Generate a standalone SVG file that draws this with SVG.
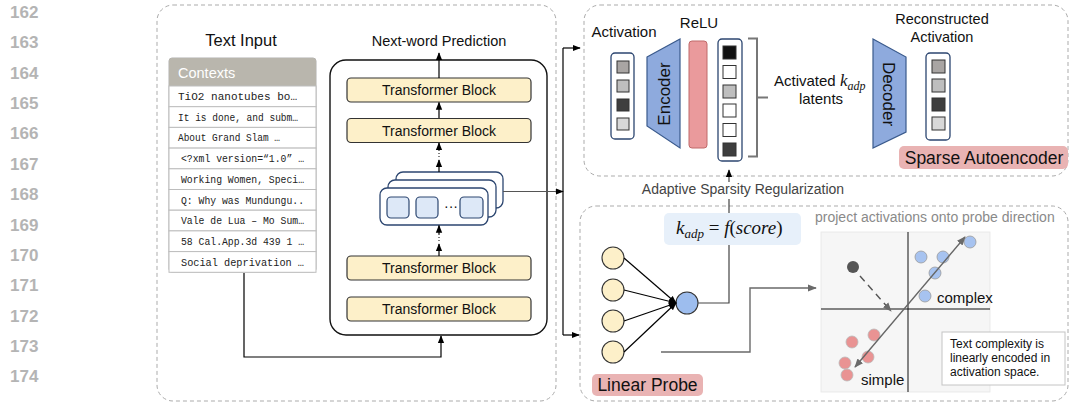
<svg xmlns="http://www.w3.org/2000/svg" width="1071" height="404" viewBox="0 0 1071 404">
  <defs>
    <marker id="ah" viewBox="0 0 10 10" refX="9" refY="5" markerUnits="userSpaceOnUse" markerWidth="8" markerHeight="8" orient="auto-start-reverse">
      <path d="M0,1 L10,5 L0,9 z" fill="#000"/>
    </marker>
    <marker id="ahg" viewBox="0 0 10 10" refX="9" refY="5" markerUnits="userSpaceOnUse" markerWidth="9" markerHeight="9" orient="auto-start-reverse">
      <path d="M0,1 L10,5 L0,9 z" fill="#6a6a6a"/>
    </marker>
    <style>
      .sans { font-family: "Liberation Sans", Arial, sans-serif; }
      .mono { font-family: "Liberation Mono", "DejaVu Sans Mono", monospace; font-size: 10.5px; fill: #222; }
      .math { font-family: "Liberation Serif", "DejaVu Serif", serif; font-style: italic; }
      .lineno { font-family: "Liberation Sans", Arial, sans-serif; font-size: 17px; font-weight: bold; fill: #b4b4b4; }
      .panel { fill: none; stroke: #ababab; stroke-width: 1; stroke-dasharray: 4 3; }
      .tblock { fill: #fdf0c9; stroke: #333; stroke-width: 1.2; }
      .tblock-t { font-family: "Liberation Sans", Arial, sans-serif; font-size: 14px; fill: #111; text-anchor: middle; }
      .vec { fill: #fff; stroke: #2c4670; stroke-width: 1.3; }
      .cell { stroke: #333; stroke-width: 1; }
      .tag { fill: #e9b3b3; }
      .tag-t { font-family: "Liberation Sans", Arial, sans-serif; font-size: 17.5px; fill: #111; text-anchor: middle; }
      .wire { fill: none; stroke: #000; stroke-width: 1.2; }
      .gwire { fill: none; stroke: #6a6a6a; stroke-width: 1.4; }
      .row { fill: #fff; stroke: #bdbdbd; stroke-width: 1; }
      .layer { fill: #fff; stroke: #2c4670; stroke-width: 1.3; }
      .tok { fill: #dde8f7; stroke: #2c4670; stroke-width: 1.2; }
      .neuron { fill: #fdf0c9; stroke: #333; stroke-width: 1.1; }
      .bluept { fill: #a7c3f0; stroke: #9a9a9a; stroke-width: 0.8; }
      .redpt { fill: #e99393; stroke: #b9b9b9; stroke-width: 0.8; }
    </style>
  </defs>

  <!-- line numbers -->
  <g id="line-numbers">
    <text class="lineno" x="10" y="18">162</text>
    <text class="lineno" x="10" y="48.4">163</text>
    <text class="lineno" x="10" y="78.7">164</text>
    <text class="lineno" x="10" y="109">165</text>
    <text class="lineno" x="10" y="139.4">166</text>
    <text class="lineno" x="10" y="169.8">167</text>
    <text class="lineno" x="10" y="200.1">168</text>
    <text class="lineno" x="10" y="230.5">169</text>
    <text class="lineno" x="10" y="260.8">170</text>
    <text class="lineno" x="10" y="291.2">171</text>
    <text class="lineno" x="10" y="321.5">172</text>
    <text class="lineno" x="10" y="351.9">173</text>
    <text class="lineno" x="10" y="382.2">174</text>
  </g>

  <!-- panels -->
  <g id="panels">
    <rect class="panel" x="157" y="5" width="399" height="396" rx="16"/>
    <rect class="panel" x="584" y="5" width="484" height="171" rx="16"/>
    <rect class="panel" x="580" y="206" width="488" height="195" rx="16"/>
  </g>

  <!-- text input table -->
  <g id="text-input">
    <text class="sans" x="241" y="46" font-size="16.5" text-anchor="middle" fill="#111">Text Input</text>
    <rect x="169" y="58" width="147" height="214" rx="3" fill="#fff" stroke="#b0b0b0" stroke-width="1"/>
    <path d="M169,86 V61 a3,3 0 0 1 3,-3 H313 a3,3 0 0 1 3,3 V86 z" fill="#b9b6ad"/>
    <text class="sans" x="178" y="78" font-size="14.5" fill="#fff">Contexts</text>
    <rect class="row" x="169" y="86" width="147" height="20.7"/>
    <rect class="row" x="169" y="106.7" width="147" height="20.7"/>
    <rect class="row" x="169" y="127.4" width="147" height="20.7"/>
    <rect class="row" x="169" y="148.1" width="147" height="20.7"/>
    <rect class="row" x="169" y="168.8" width="147" height="20.7"/>
    <rect class="row" x="169" y="189.5" width="147" height="20.7"/>
    <rect class="row" x="169" y="210.2" width="147" height="20.7"/>
    <rect class="row" x="169" y="230.9" width="147" height="20.7"/>
    <rect class="row" x="169" y="251.6" width="147" height="20.7"/>
    <text class="mono" x="178" y="100" textLength="119" lengthAdjust="spacingAndGlyphs">TiO2 nanotubes bo…</text>
    <text class="mono" x="178" y="120.7" textLength="120" lengthAdjust="spacingAndGlyphs">It is done, and subm…</text>
    <text class="mono" x="178" y="141.4" textLength="102" lengthAdjust="spacingAndGlyphs">About Grand Slam …</text>
    <text class="mono" x="181" y="162.1" textLength="123" lengthAdjust="spacingAndGlyphs">&lt;?xml version=“1.0” …</text>
    <text class="mono" x="181" y="182.8" textLength="123" lengthAdjust="spacingAndGlyphs">Working Women, Speci…</text>
    <text class="mono" x="181" y="203.5" textLength="123" lengthAdjust="spacingAndGlyphs">Q: Why was Mundungu..</text>
    <text class="mono" x="181" y="224.2" textLength="123" lengthAdjust="spacingAndGlyphs">Vale de Lua – Mo Sum…</text>
    <text class="mono" x="181" y="244.9" textLength="123" lengthAdjust="spacingAndGlyphs">58 Cal.App.3d 439 1 …</text>
    <text class="mono" x="181" y="265.6" textLength="123" lengthAdjust="spacingAndGlyphs">Social deprivation  …</text>
  </g>

  <!-- transformer stack -->
  <g id="transformer">
    <rect x="330" y="60" width="217" height="275" rx="16" fill="none" stroke="#111" stroke-width="1.4"/>
    <text class="sans" x="439" y="46" font-size="14.5" text-anchor="middle" fill="#111">Next-word Prediction</text>
    <rect class="tblock" x="347" y="78" width="184" height="24" rx="4"/>
    <text class="tblock-t" x="439" y="95">Transformer Block</text>
    <rect class="tblock" x="347" y="118.5" width="184" height="24" rx="4"/>
    <text class="tblock-t" x="439" y="135.5">Transformer Block</text>
    <rect class="tblock" x="347" y="256" width="184" height="24" rx="4"/>
    <text class="tblock-t" x="439" y="273">Transformer Block</text>
    <rect class="tblock" x="347" y="297" width="184" height="24" rx="4"/>
    <text class="tblock-t" x="439" y="314">Transformer Block</text>
  </g>

  <!-- hidden-state layers -->
  <g id="hidden-states">
    <rect class="layer" x="396" y="172" width="107" height="36" rx="7"/>
    <rect class="layer" x="388" y="180" width="108" height="37" rx="7"/>
    <rect class="layer" x="380" y="188" width="108" height="37" rx="7"/>
    <rect class="tok" x="387" y="197" width="22" height="21" rx="4"/>
    <rect class="tok" x="416" y="197" width="22" height="21" rx="4"/>
    <text class="sans" x="451" y="211" font-size="14" text-anchor="middle" fill="#111">···</text>
    <rect class="tok" x="460" y="197" width="23" height="21" rx="4"/>
  </g>

  <!-- sparse autoencoder -->
  <g id="sae">
    <text class="sans" x="624" y="37" font-size="15" text-anchor="middle" fill="#111">Activation</text>
    <rect class="vec" x="611" y="53" width="23" height="86" rx="4"/>
    <rect class="cell" x="617" y="61" width="12" height="12" fill="#a9a5a3"/>
    <rect class="cell" x="617" y="80" width="12" height="12" fill="#bebebe"/>
    <rect class="cell" x="617" y="99" width="12" height="12" fill="#3e3e3e"/>
    <rect class="cell" x="617" y="118" width="12" height="12" fill="#d8d8d8"/>

    <polygon points="647,57 680,39 680,148 647,126" fill="#8eaadd" stroke="#3a5a8c" stroke-width="1.2"/>
    <text class="sans" font-size="17" text-anchor="middle" fill="#111" transform="translate(664,94) rotate(-90)" y="6">Encoder</text>

    <text class="sans" x="699" y="28" font-size="15" text-anchor="middle" fill="#111">ReLU</text>
    <rect x="689" y="41" width="18" height="107" rx="3" fill="#ea9a9c" stroke="#c06a6a" stroke-width="1"/>

    <rect class="vec" x="718" y="39" width="24" height="122" rx="4"/>
    <rect class="cell" x="723" y="46" width="13" height="13" fill="#111"/>
    <rect class="cell" x="723" y="65.5" width="13" height="13" fill="#fff"/>
    <rect class="cell" x="723" y="85" width="13" height="13" fill="#bebebe"/>
    <rect class="cell" x="723" y="104" width="13" height="13" fill="#fff"/>
    <rect class="cell" x="723" y="123.5" width="13" height="13" fill="#fff"/>
    <rect class="cell" x="723" y="143" width="13" height="13" fill="#3e3e3e"/>

    <path d="M748,38.5 H757 V156.5 H748 M757,97.5 H768" fill="none" stroke="#777" stroke-width="2"/>
    <text class="sans" x="774" y="86" font-size="15" fill="#111">Activated <tspan class="math" font-size="17">k</tspan><tspan class="math" font-size="12" dy="4">adp</tspan></text>
    <text class="sans" x="821" y="104" font-size="15" text-anchor="middle" fill="#111">latents</text>

    <polygon points="873,39 906,57 906,132 873,148" fill="#8eaadd" stroke="#3a5a8c" stroke-width="1.2"/>
    <text class="sans" font-size="17" text-anchor="middle" fill="#111" transform="translate(889,94) rotate(90)" y="6">Decoder</text>

    <text class="sans" x="942" y="24" font-size="14.5" text-anchor="middle" fill="#111">Reconstructed</text>
    <text class="sans" x="942" y="42" font-size="14.5" text-anchor="middle" fill="#111">Activation</text>
    <rect class="vec" x="926" y="53" width="24" height="87" rx="4"/>
    <rect class="cell" x="932" y="60" width="13" height="13" fill="#a9a5a3"/>
    <rect class="cell" x="932" y="79" width="13" height="13" fill="#bebebe"/>
    <rect class="cell" x="932" y="98" width="13" height="13" fill="#3e3e3e"/>
    <rect class="cell" x="932" y="117" width="13" height="13" fill="#d8d8d8"/>

    <rect class="tag" x="899" y="146" width="169" height="23" rx="5"/>
    <text class="tag-t" x="984" y="164" font-size="18">Sparse Autoencoder</text>
  </g>

  <!-- linear probe -->
  <g id="linear-probe">
    <circle class="neuron" cx="613" cy="258" r="11"/>
    <circle class="neuron" cx="613" cy="290" r="11"/>
    <circle class="neuron" cx="613" cy="321" r="11"/>
    <circle class="neuron" cx="613" cy="352" r="11"/>
    <circle cx="687" cy="303" r="11" fill="#9dbdee" stroke="#333" stroke-width="1.1"/>
    <rect x="664" y="213" width="137" height="32" rx="5" fill="#e7f0fa"/>
    <text class="math" x="676" y="234" font-size="19" fill="#111">k<tspan font-size="13" dy="4">adp</tspan><tspan dy="-4" font-style="normal"> = </tspan>f<tspan font-style="normal">(</tspan>score<tspan font-style="normal">)</tspan></text>
    <rect class="tag" x="592" y="374" width="111" height="22" rx="5"/>
    <text class="tag-t" x="647.5" y="391">Linear Probe</text>
  </g>

  <!-- projection plot -->
  <g id="probe-plot">
    <text class="sans" x="815" y="222" font-size="14" fill="#8a8a8a">project activations onto probe direction</text>
    <rect x="821" y="232" width="169" height="160" fill="#f6f6f6" stroke="#e6e6e6" stroke-width="0.8"/>
    <line x1="908" y1="232" x2="908" y2="392" stroke="#111" stroke-width="1"/>
    <line x1="821" y1="309" x2="990" y2="309" stroke="#111" stroke-width="1"/>
    <circle cx="853" cy="267" r="6" fill="#555"/>
    <line x1="860" y1="276" x2="891" y2="311" stroke="#555" stroke-width="1.4" stroke-dasharray="7 5" marker-end="url(#ahg)"/>
    <circle class="bluept" cx="921" cy="257" r="6"/>
    <circle class="bluept" cx="943" cy="257" r="6"/>
    <circle class="bluept" cx="935" cy="273" r="6"/>
    <circle class="bluept" cx="925" cy="296" r="6"/>
    <circle class="bluept" cx="970" cy="242" r="6"/>
    <circle class="redpt" cx="852" cy="342" r="6"/>
    <circle class="redpt" cx="874" cy="335" r="6"/>
    <circle class="redpt" cx="868" cy="357" r="6"/>
    <circle class="redpt" cx="845" cy="363" r="6"/>
    <circle class="redpt" cx="847" cy="375" r="6"/>
    <line x1="855" y1="367" x2="965" y2="237" stroke="#666" stroke-width="1.4" marker-start="url(#ahg)" marker-end="url(#ahg)"/>
    <text class="sans" x="937" y="303" font-size="15" fill="#111">complex</text>
    <text class="sans" x="861" y="385" font-size="15" fill="#111">simple</text>
    <rect x="942" y="332" width="123" height="53" fill="#fff" stroke="#c4c4c4" stroke-width="1"/>
    <text class="sans" x="950" y="348" font-size="12" fill="#111">Text complexity is</text>
    <text class="sans" x="950" y="362" font-size="12" fill="#111">linearly encoded in</text>
    <text class="sans" x="950" y="376" font-size="12" fill="#111">activation space.</text>
  </g>

  <!-- connectors -->
  <g id="connectors">
    <path class="wire" d="M244,273 V357 H441 V336" marker-end="url(#ah)"/>
    <line class="wire" x1="439" y1="78" x2="439" y2="53" marker-end="url(#ah)"/>
    <line class="wire" x1="439" y1="118" x2="439" y2="102.5" marker-end="url(#ah)"/>
    <!-- dotted gaps between layers -->
    <line class="wire" x1="439" y1="172" x2="439" y2="160" marker-end="url(#ah)"/>
    <line x1="439" y1="150" x2="439" y2="158" stroke="#000" stroke-width="1" stroke-dasharray="1 2"/>
    <line class="wire" x1="439" y1="150" x2="439" y2="143" marker-end="url(#ah)"/>
    <line class="wire" x1="439" y1="256" x2="439" y2="244" marker-end="url(#ah)"/>
    <line x1="439" y1="234" x2="439" y2="242" stroke="#000" stroke-width="1" stroke-dasharray="1 2"/>
    <line class="wire" x1="439" y1="234" x2="439" y2="225.5" marker-end="url(#ah)"/>
    <!-- hidden state routed to SAE and probe -->
    <line x1="503" y1="191.5" x2="563" y2="191.5" stroke="#555" stroke-width="1.2" marker-end="url(#ah)"/>
    <path class="wire" d="M563,48 V335"/>
    <line class="wire" x1="563" y1="48" x2="580" y2="48" marker-end="url(#ah)"/>
    <line class="wire" x1="563" y1="335" x2="579" y2="335" marker-end="url(#ah)"/>
    <!-- probe network edges -->
    <line class="wire" x1="624" y1="258" x2="676" y2="303" marker-end="url(#ah)"/>
    <line class="wire" x1="624" y1="290" x2="676" y2="303" marker-end="url(#ah)"/>
    <line class="wire" x1="624" y1="321" x2="676" y2="303" marker-end="url(#ah)"/>
    <line class="wire" x1="624" y1="352" x2="676" y2="303" marker-end="url(#ah)"/>
    <!-- probe output to sparsity control -->
    <path d="M698,303 H729 V245" fill="none" stroke="#444" stroke-width="1.2"/>
    <line x1="729" y1="213" x2="729" y2="170" stroke="#444" stroke-width="1.2" marker-end="url(#ah)"/>
    <path class="gwire" d="M661,352 H750 V288 H816" marker-end="url(#ahg)"/>
  </g>

  <!-- regularization label -->
  <g id="regularization-label">
    <rect x="636" y="182" width="215" height="17" fill="#fff"/>
    <text class="sans" x="743" y="194" font-size="14" text-anchor="middle" fill="#444">Adaptive Sparsity Regularization</text>
  </g>
</svg>
